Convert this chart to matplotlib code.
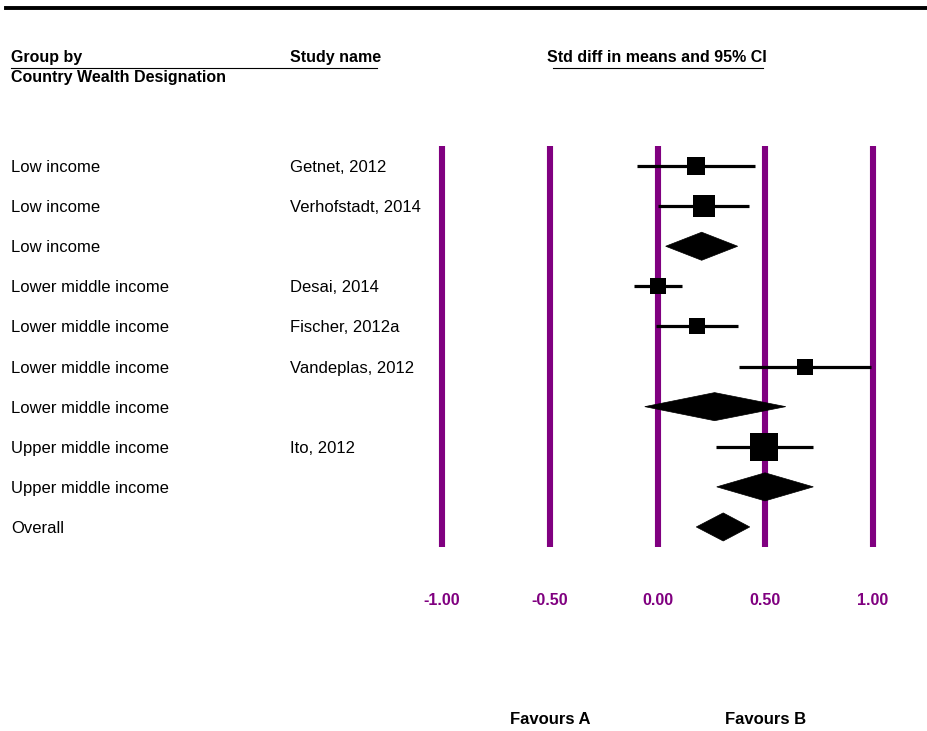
import matplotlib
matplotlib.use("Agg")
import matplotlib.pyplot as plt
import matplotlib.transforms as mtransforms
from matplotlib.patches import Polygon
from matplotlib.lines import Line2D
import numpy as np

plt.rcParams['font.family'] = ['Liberation Sans', 'DejaVu Sans']

# rows of the forest plot, top to bottom
groups = ['Low income', 'Low income', 'Low income',
          'Lower middle income', 'Lower middle income', 'Lower middle income', 'Lower middle income',
          'Upper middle income', 'Upper middle income', 'Overall']
studies = ['Getnet, 2012', 'Verhofstadt, 2014', '',
           'Desai, 2014', 'Fischer, 2012a', 'Vandeplas, 2012', '',
           'Ito, 2012', '', '']
kind = ['study', 'study', 'summary',
        'study', 'study', 'study', 'summary',
        'study', 'summary', 'summary']
effect = [0.179, 0.216, 0.205, 0.001, 0.184, 0.684, 0.265, 0.493, 0.499, 0.305]
lower = [-0.094, 0.004, 0.038, -0.108, -0.007, 0.378, -0.059, 0.271, 0.275, 0.180]
upper = [0.452, 0.425, 0.372, 0.112, 0.372, 0.989, 0.595, 0.720, 0.723, 0.428]
weights = [12.7, 20.1, 0, 12.0, 12.0, 10.6, 0, 32.6, 0, 0]

xticks = [-1.0, -0.5, 0.0, 0.5, 1.0]
favours = ['Favours A', 'Favours B']

W, H = 927, 731
fig = plt.figure(figsize=(W / 100, H / 100), dpi=100)
purple = '#800080'

# forest axes: x=-1 at px 442, x=1 at px 873; rows from px 146 to 547
ax = fig.add_axes([442 / W, 1 - 547 / H, (873 - 442) / W, (547 - 146) / H])
n = len(groups)
ax.set_xlim(-1, 1)
ax.set_ylim(n - 0.5, -0.5)
for s in ax.spines.values():
    s.set_visible(False)
ax.set_yticks([])
ax.set_xticks(xticks)
ax.set_xticklabels(['%.2f' % t for t in xticks], color=purple, fontweight='bold', fontsize=11.5)
ax.tick_params(axis='x', length=0, pad=33)

for t in xticks:
    ax.axvline(t, color=purple, lw=4.4, zorder=1, clip_on=False, solid_capstyle='butt')

px = 72 / 100  # points per pixel
for i in range(n):
    if kind[i] == 'study':
        ax.plot([lower[i], upper[i]], [i, i], color='black', lw=2.3, zorder=3,
                solid_capstyle='butt', clip_on=False)
        side = 4.9 * np.sqrt(weights[i]) * px
        ax.plot(effect[i], i, marker='s', ms=side, color='black', mec='black', mew=0, zorder=4)
    else:
        h = 0.35
        poly = Polygon([[lower[i], i], [effect[i], i - h], [upper[i], i], [effect[i], i + h]],
                       closed=True, facecolor='black', edgecolor='black', lw=0.5, zorder=4)
        ax.add_patch(poly)

# left text columns
trans = mtransforms.blended_transform_factory(fig.transFigure, ax.transData)
for i in range(n):
    ax.text(11 / W, i, groups[i], transform=trans, fontsize=12, va='center_baseline', ha='left')
    if studies[i]:
        ax.text(290 / W, i, studies[i], transform=trans, fontsize=12, va='center_baseline', ha='left')

# headers
hdr = dict(fontsize=11.5, fontweight='bold', va='center_baseline', ha='left')
fig.text(11 / W, 1 - 56 / H, 'Group by', **hdr)
fig.text(11 / W, 1 - 76 / H, 'Country Wealth Designation', **hdr)
fig.text(290 / W, 1 - 56 / H, 'Study name', **hdr)
fig.text(547 / W, 1 - 56 / H, 'Std diff in means and 95% CI', **hdr)
fig.add_artist(Line2D([11 / W, 377 / W], [1 - 67.5 / H, 1 - 67.5 / H], color='black', lw=0.8))
fig.add_artist(Line2D([553 / W, 763 / W], [1 - 67.5 / H, 1 - 67.5 / H], color='black', lw=0.8))

# top rule
fig.add_artist(Line2D([6 / W, 1.0], [1 - 8 / H, 1 - 8 / H], color='black', lw=2.8))

# favours labels under the axis
tfav = mtransforms.blended_transform_factory(ax.transData, fig.transFigure)
for xv, lab in zip([-0.5, 0.5], favours):
    ax.text(xv, 1 - 718 / H, lab, transform=tfav, fontsize=12, fontweight='bold',
            ha='center', va='center_baseline')

fig.savefig('out.png', dpi=100)
